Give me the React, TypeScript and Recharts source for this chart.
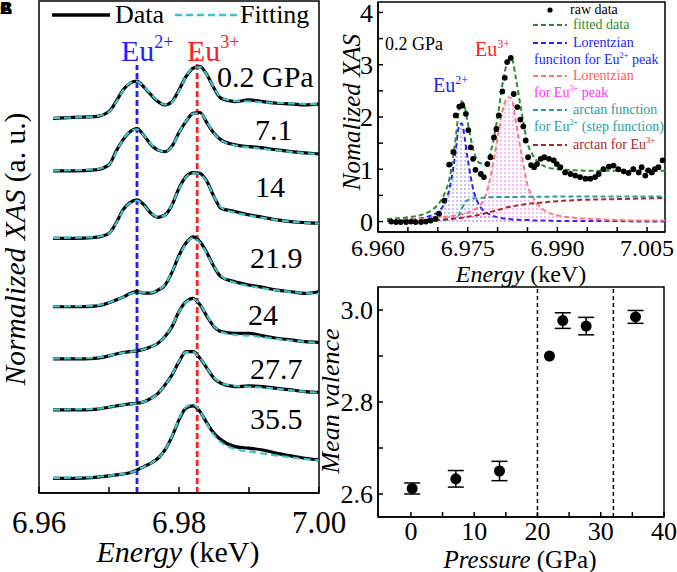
import React from "react";
import {
  ComposedChart,
  Line,
  Area,
  Scatter,
  XAxis,
  YAxis,
  ReferenceLine,
  ReferenceArea,
  ErrorBar,
} from "recharts";

const serif = "'Liberation Serif', 'Times New Roman', serif";

// ---------- panel A : stacked XAS spectra ----------
const energyA = [
  6.962, 6.965, 6.968, 6.97, 6.971, 6.972, 6.973, 6.974, 6.975, 6.976, 6.977,
  6.978, 6.979, 6.98, 6.981, 6.982, 6.983, 6.984, 6.985, 6.986, 6.988, 6.99,
  6.992, 6.994, 6.996, 6.998, 7.0,
];
const pressureLabels = ["0.2 GPa", "7.1", "14", "21.9", "24", "27.7", "35.5"];
const offsets = [23.42, 20.13, 15.92, 11.64, 8.38, 5.19, 0.92];

const data02 = [0, 0.06, 0.1, 0.42, 1.04, 1.77, 2.19, 2.33, 1.94, 1.46, 1.04, 0.83, 1.04, 1.77, 2.6, 3.13, 3.23, 2.71, 1.88, 1.25, 1.04, 1.15, 1.04, 0.94, 0.9, 0.83, 0.88];
const data71 = [0, 0, 0.06, 0.38, 1.21, 1.94, 2.45, 2.65, 2.2, 1.65, 1.3, 1.2, 1.55, 2.4, 3.1, 3.6, 3.65, 3.0, 2.35, 1.94, 1.63, 1.52, 1.44, 1.31, 1.21, 1.13, 1.06];
const data14 = [0, 0, 0.06, 0.31, 0.94, 1.77, 2.23, 2.4, 2.08, 1.56, 1.31, 1.46, 2.08, 3.13, 3.85, 4.1, 4.06, 3.54, 2.6, 1.88, 1.67, 1.46, 1.31, 1.15, 1.04, 0.98, 0.94];
const data219 = [0, 0, 0.04, 0.25, 0.42, 0.6, 0.83, 0.94, 0.85, 0.85, 1.04, 1.35, 2.16, 3.2, 3.98, 4.37, 4.06, 3.36, 2.5, 1.88, 1.56, 1.36, 1.21, 1.04, 0.94, 0.84, 0.94];
const data24 = [0, 0, 0.04, 0.19, 0.31, 0.4, 0.46, 0.5, 0.6, 0.77, 0.98, 1.4, 2.02, 2.96, 3.58, 3.79, 3.38, 2.65, 2.02, 1.71, 1.6, 1.6, 1.44, 1.29, 1.19, 1.08, 1.04];
const data277 = [0, 0, 0.04, 0.17, 0.25, 0.31, 0.38, 0.42, 0.52, 0.73, 1.04, 1.56, 2.19, 3.02, 3.65, 3.65, 3.23, 2.6, 1.98, 1.67, 1.46, 1.5, 1.46, 1.35, 1.25, 1.15, 1.1];
const data355 = [0, 0, 0.06, 0.15, 0.21, 0.27, 0.35, 0.52, 0.73, 0.94, 1.25, 1.77, 2.6, 3.65, 4.38, 4.52, 4.17, 3.44, 2.81, 2.4, 1.98, 1.88, 1.77, 1.56, 1.4, 1.25, 1.15];

const fit02 = [0.02, 0.05, 0.12, 0.4, 1.0, 1.75, 2.2, 2.3, 1.98, 1.5, 1.08, 0.86, 1.0, 1.72, 2.6, 3.15, 3.2, 2.7, 1.9, 1.3, 1.08, 1.05, 1.0, 0.96, 0.93, 0.9, 0.88];
const fit71 = [0.02, 0.05, 0.1, 0.38, 1.15, 1.95, 2.45, 2.6, 2.2, 1.68, 1.32, 1.2, 1.52, 2.38, 3.12, 3.58, 3.6, 3.05, 2.35, 1.92, 1.6, 1.48, 1.38, 1.28, 1.19, 1.11, 1.05];
const fit14 = [0.02, 0.04, 0.08, 0.3, 0.9, 1.75, 2.2, 2.35, 2.05, 1.58, 1.33, 1.45, 2.1, 3.1, 3.82, 4.08, 4.0, 3.5, 2.6, 1.95, 1.6, 1.42, 1.27, 1.14, 1.04, 0.97, 0.92];
const fit219 = [0.02, 0.04, 0.08, 0.26, 0.42, 0.6, 0.8, 0.92, 0.88, 0.88, 1.05, 1.38, 2.2, 3.15, 3.95, 4.32, 4.0, 3.3, 2.5, 1.95, 1.5, 1.3, 1.15, 1.02, 0.93, 0.86, 0.82];
const fit24 = [0.02, 0.04, 0.08, 0.2, 0.3, 0.38, 0.45, 0.5, 0.6, 0.76, 0.99, 1.4, 2.05, 2.95, 3.55, 3.75, 3.4, 2.7, 2.05, 1.7, 1.5, 1.45, 1.36, 1.25, 1.15, 1.07, 1.0];
const fit277 = [0.02, 0.04, 0.08, 0.18, 0.25, 0.31, 0.37, 0.42, 0.52, 0.72, 1.04, 1.55, 2.2, 3.05, 3.62, 3.62, 3.25, 2.62, 2.02, 1.7, 1.5, 1.45, 1.4, 1.32, 1.22, 1.14, 1.08];
const fit355 = [0.02, 0.04, 0.08, 0.16, 0.21, 0.27, 0.35, 0.5, 0.72, 0.94, 1.26, 1.78, 2.62, 3.7, 4.45, 4.6, 4.2, 3.4, 2.7, 2.25, 1.82, 1.68, 1.55, 1.42, 1.3, 1.2, 1.12];

const spectra = [data02, data71, data14, data219, data24, data277, data355];
const fits = [fit02, fit71, fit14, fit219, fit24, fit277, fit355];

const eu2Energy = 6.974;
const eu3Energy = 6.9826;

// ---------- panel B : fit of the 0.2 GPa spectrum ----------
const energyB = [
  6.9615, 6.963, 6.965, 6.967, 6.969, 6.97, 6.971, 6.972, 6.973, 6.9735, 6.974,
  6.9745, 6.975, 6.976, 6.977, 6.978, 6.979, 6.98, 6.981, 6.9815, 6.982, 6.9825,
  6.983, 6.984, 6.985, 6.986, 6.988, 6.99, 6.993, 6.996, 7.0, 7.004, 7.008,
];
const fitted = [0.05, 0.06, 0.08, 0.12, 0.22, 0.32, 0.5, 0.85, 1.6, 2.1, 2.3, 2.2, 1.9, 1.35, 1.12, 1.1, 1.4, 2.0, 2.75, 3.0, 3.12, 3.08, 2.78, 2.1, 1.5, 1.25, 1.05, 1.0, 0.98, 0.97, 0.97, 0.97, 0.97];
const lorentz2 = [0.02, 0.03, 0.04, 0.06, 0.12, 0.18, 0.32, 0.65, 1.35, 1.8, 1.88, 1.6, 1.2, 0.58, 0.3, 0.18, 0.12, 0.08, 0.06, 0.05, 0.05, 0.04, 0.04, 0.03, 0.03, 0.02, 0.02, 0.01, 0.01, 0.01, 0.01, 0, 0];
const lorentz3 = [0.03, 0.03, 0.04, 0.05, 0.07, 0.08, 0.09, 0.1, 0.12, 0.13, 0.14, 0.15, 0.17, 0.22, 0.3, 0.5, 0.95, 1.6, 2.2, 2.35, 2.38, 2.3, 1.95, 1.3, 0.7, 0.45, 0.2, 0.12, 0.07, 0.05, 0.03, 0.02, 0.02];
const arctan2 = [0.01, 0.01, 0.015, 0.02, 0.02, 0.025, 0.03, 0.04, 0.07, 0.12, 0.24, 0.36, 0.41, 0.44, 0.45, 0.46, 0.465, 0.47, 0.47, 0.47, 0.47, 0.47, 0.47, 0.475, 0.475, 0.475, 0.475, 0.48, 0.48, 0.48, 0.48, 0.48, 0.48];
const arctan3 = [0.01, 0.01, 0.02, 0.02, 0.03, 0.035, 0.04, 0.05, 0.06, 0.065, 0.07, 0.08, 0.09, 0.11, 0.13, 0.16, 0.19, 0.22, 0.25, 0.27, 0.28, 0.29, 0.3, 0.32, 0.34, 0.35, 0.37, 0.39, 0.41, 0.42, 0.43, 0.44, 0.45];

const rawE = [
  6.9622, 6.963, 6.9638, 6.9647, 6.9655, 6.9663, 6.9672, 6.968, 6.9688, 6.9696,
  6.9702, 6.9711, 6.9719, 6.9726, 6.973, 6.9736, 6.9741, 6.9747, 6.9751, 6.9755,
  6.9759, 6.9763, 6.9772, 6.9777, 6.9783, 6.9788, 6.9794, 6.9798, 6.9802, 6.9808,
  6.9812, 6.9816, 6.9822, 6.9827, 6.9833, 6.9838, 6.9843, 6.9847, 6.9851, 6.9856,
  6.9861, 6.9866, 6.9872, 6.9878, 6.9886, 6.9894, 6.9899, 6.9905, 6.9913, 6.9922,
  6.993, 6.9938, 6.9947, 6.9955, 6.9963, 6.9969, 6.9977, 6.9986, 6.9994, 7.0002,
  7.0011, 7.0019, 7.0027, 7.0036, 7.0041, 7.0047, 7.0052, 7.0058, 7.0063, 7.0069,
  7.0076,
];
const rawY = [
  0, -0.01, -0.01, -0.01, 0, -0.01, -0.01, 0, 0.02, 0.05,
  0.15, 0.4, 1.09, 1.33, 2.03, 2.2, 2.22, 2.06, 1.75, 1.42,
  1.2, 0.99, 0.91, 0.85, 1.1, 1.23, 1.61, 1.77, 2.03, 2.49,
  2.75, 3.05, 3.13, 2.44, 2.19, 1.95, 1.82, 1.55, 1.23, 1.08,
  1.04, 1.1, 1.2, 1.23, 1.2, 1.17, 1.1, 1.04, 0.94, 0.91,
  0.88, 0.85, 0.82, 0.82, 0.85, 0.91, 1.0, 1.05, 1.07, 1.0,
  0.96, 0.93, 1.0, 0.94, 1.04, 0.88, 0.98, 0.94, 1.0, 1.04,
  1.17,
];

// ---------- panel C : mean valence vs pressure ----------
const pressureC = [0.2, 7.1, 14, 21.9, 24, 27.7, 35.5];
const valenceC = [2.612, 2.633, 2.65, 2.9, 2.977, 2.965, 2.985];
const errC = [0.012, 0.018, 0.021, 0, 0.017, 0.019, 0.014];
const transitions = [20, 32];

const rowsA = energyA.map((e, i) => {
  const r: any = { e };
  spectra.forEach((s, k) => (r[`d${k}`] = s[i] + offsets[k]));
  fits.forEach((s, k) => (r[`f${k}`] = s[i] + offsets[k]));
  return r;
});
const rowsB = energyB.map((e, i) => ({
  e,
  fit: fitted[i],
  l2: lorentz2[i],
  l3: lorentz3[i],
  a2: arctan2[i],
  a3: arctan3[i],
}));
const rawRows = rawE.map((e, i) => ({ e, y: rawY[i] }));
const rowsC = pressureC.map((p, i) => ({ p, v: valenceC[i], err: errC[i] }));

const tickFont = (size: number) => ({ fontSize: size, fill: "#000", fontFamily: serif });

function Txt({ x, y, size, color = "#000", center = false, children }: any) {
  return (
    <div
      style={{
        position: "absolute",
        left: x,
        top: y - size / 2,
        fontSize: size,
        color,
        lineHeight: 1,
        whiteSpace: "nowrap",
        fontFamily: serif,
        transform: center ? "translateX(-50%)" : undefined,
      }}
    >
      {children}
    </div>
  );
}

function VTxt({ x, y, size, children }: any) {
  return (
    <div
      style={{
        position: "absolute",
        left: x,
        top: y,
        fontSize: size,
        lineHeight: 1,
        whiteSpace: "nowrap",
        fontFamily: serif,
        transform: "translate(-50%, -50%) rotate(-90deg)",
      }}
    >
      {children}
    </div>
  );
}

const Sup = ({ children }: any) => (
  <span style={{ fontSize: "0.6em", position: "relative", top: "-0.7em" }}>{children}</span>
);

const pressPos = [
  [217, 77],
  [255, 130],
  [255, 187],
  [250, 258],
  [248, 315],
  [250, 369],
  [250, 419],
];

export default function App() {
  return (
    <div
      style={{
        position: "absolute",
        left: 0,
        top: 0,
        width: 677,
        height: 572,
        background: "#fff",
        overflow: "hidden",
        fontFamily: serif,
      }}
    >
      {/* A */}
      <div style={{ position: "absolute", left: 0, top: 0 }}>
        <ComposedChart
          width={360}
          height={572}
          data={rowsA}
          margin={{ top: 1, right: 41, bottom: 29, left: 39 }}
        >
          <XAxis
            dataKey="e"
            type="number"
            domain={[6.96, 7.0]}
            allowDataOverflow
            ticks={[6.96, 6.97, 6.98, 6.99, 7.0]}
            interval={0}
            tickFormatter={(v: number) => (["6.96", "6.98", "7.00"].includes(v.toFixed(2)) ? v.toFixed(2) : "")}
            tick={tickFont(31)}
            tickSize={-6}
            tickMargin={24}
            height={50}
            stroke="#000"
            strokeWidth={1.5}
          />
          <YAxis type="number" domain={[0, 30.75]} allowDataOverflow hide />
          <ReferenceArea x1={6.96} x2={7.0} y1={0} y2={30.75} fill="none" stroke="#000" strokeWidth={1.5} />
          <ReferenceLine
            segment={[{ x: eu2Energy, y: 0 }, { x: eu2Energy, y: 26.75 }]}
            stroke="#1f1fff"
            strokeWidth={2.8}
            strokeDasharray="6 3"
          />
          <ReferenceLine
            segment={[{ x: eu3Energy, y: 0 }, { x: eu3Energy, y: 27.2 }]}
            stroke="#ff2020"
            strokeWidth={2.8}
            strokeDasharray="6 3"
          />
          {spectra.map((_, k) => (
            <Line
              key={`d${k}`}
              dataKey={`d${k}`}
              type="monotone"
              stroke="#000"
              strokeWidth={3.2}
              dot={false}
              isAnimationActive={false}
            />
          ))}
          {fits.map((_, k) => (
            <Line
              key={`f${k}`}
              dataKey={`f${k}`}
              type="monotone"
              stroke="#3cc4cc"
              strokeWidth={2.2}
              strokeDasharray="7 4"
              dot={false}
              isAnimationActive={false}
            />
          ))}
        </ComposedChart>
      </div>

      {/* B */}
      <div style={{ position: "absolute", left: 340, top: 0 }}>
        <ComposedChart
          width={337}
          height={280}
          data={rowsB}
          margin={{ top: 2, right: 12, bottom: 18, left: 0 }}
        >
          <defs>
            <pattern id="dotBlue" width="4" height="4" patternUnits="userSpaceOnUse">
              <circle cx="1" cy="1" r="0.7" fill="#5a5aff" />
            </pattern>
            <pattern id="dotPink" width="4" height="4" patternUnits="userSpaceOnUse">
              <circle cx="1" cy="1" r="0.7" fill="#ff40ff" />
            </pattern>
          </defs>
          <XAxis
            dataKey="e"
            type="number"
            domain={[6.96, 7.008]}
            allowDataOverflow
            ticks={[6.96, 6.965, 6.97, 6.975, 6.98, 6.985, 6.99, 6.995, 7.0, 7.005]}
            interval={0}
            tickFormatter={(v: number) =>
              ["6.960", "6.975", "6.990", "7.005"].includes(v.toFixed(3)) ? v.toFixed(3) : ""
            }
            tick={tickFont(24)}
            tickSize={-5}
            tickMargin={12}
            height={30}
            stroke="#000"
            strokeWidth={1.5}
          />
          <YAxis
            type="number"
            domain={[-0.2, 4.2]}
            allowDataOverflow
            ticks={[0, 0.5, 1, 1.5, 2, 2.5, 3, 3.5, 4]}
            interval={0}
            tickFormatter={(v: number) => (Number.isInteger(v) ? String(v) : "")}
            tick={tickFont(26)}
            tickSize={-5}
            tickMargin={10}
            width={38}
            stroke="#000"
            strokeWidth={1.5}
          />
          <ReferenceArea x1={6.96} x2={7.008} y1={-0.2} y2={4.2} fill="none" stroke="#000" strokeWidth={1.5} />
          <Area
            dataKey="l2"
            type="monotone"
            baseValue={0}
            fill="url(#dotBlue)"
            fillOpacity={1}
            stroke="#2424ff"
            strokeWidth={2}
            strokeDasharray="5 3"
            dot={false}
            activeDot={false}
            isAnimationActive={false}
          />
          <Area
            dataKey="l3"
            type="monotone"
            baseValue={0}
            fill="url(#dotPink)"
            fillOpacity={1}
            stroke="#ff7878"
            strokeWidth={2}
            strokeDasharray="5 3"
            dot={false}
            activeDot={false}
            isAnimationActive={false}
          />
          <Line dataKey="a2" type="monotone" stroke="#2a9d9d" strokeWidth={2} strokeDasharray="5 3" dot={false} isAnimationActive={false} />
          <Line dataKey="a3" type="monotone" stroke="#a52a2a" strokeWidth={2} strokeDasharray="5 3" dot={false} isAnimationActive={false} />
          <Line dataKey="fit" type="monotone" stroke="#2e8b2e" strokeWidth={2} strokeDasharray="5 3" dot={false} isAnimationActive={false} />
          <Scatter
            data={rawRows}
            dataKey="y"
            isAnimationActive={false}
            shape={(p: any) => <circle cx={p.cx} cy={p.cy} r={2.9} fill="#000" />}
          />
        </ComposedChart>
      </div>

      {/* C */}
      <div style={{ position: "absolute", left: 340, top: 280 }}>
        <ComposedChart
          width={337}
          height={292}
          data={rowsC}
          margin={{ top: 7, right: 13, bottom: 25, left: 0 }}
        >
          <XAxis
            dataKey="p"
            type="number"
            domain={[-5.2, 40]}
            allowDataOverflow
            ticks={[0, 5, 10, 15, 20, 25, 30, 35, 40]}
            interval={0}
            tickFormatter={(v: number) => (v % 10 === 0 ? String(v) : "")}
            tick={tickFont(26)}
            tickSize={-5}
            tickMargin={10}
            height={30}
            stroke="#000"
            strokeWidth={1.5}
          />
          <YAxis
            dataKey="v"
            type="number"
            domain={[2.55, 3.05]}
            allowDataOverflow
            ticks={[2.6, 2.7, 2.8, 2.9, 3.0]}
            interval={0}
            tickFormatter={(v: number) => (["2.6", "2.8", "3.0"].includes(v.toFixed(1)) ? v.toFixed(1) : "")}
            tick={tickFont(26)}
            tickSize={-5}
            tickMargin={10}
            width={38}
            stroke="#000"
            strokeWidth={1.5}
          />
          <ReferenceArea x1={-5.2} x2={40} y1={2.55} y2={3.05} fill="none" stroke="#000" strokeWidth={1.5} />
          {transitions.map((t) => (
            <ReferenceLine key={t} x={t} stroke="#000" strokeWidth={1.5} strokeDasharray="4 3" />
          ))}
          <Scatter
            dataKey="v"
            isAnimationActive={false}
            shape={(p: any) => <circle cx={p.cx} cy={p.cy} r={5.5} fill="#000" />}
          >
            <ErrorBar dataKey="err" direction="y" width={8} stroke="#000" strokeWidth={1.5} />
          </Scatter>
        </ComposedChart>
      </div>

      {/* legend samples */}
      <svg width={677} height={572} style={{ position: "absolute", left: 0, top: 0, pointerEvents: "none" }}>
        <line x1={52} y1={15} x2={110} y2={15} stroke="#000" strokeWidth={3.5} />
        <line x1={175} y1={15} x2={237} y2={15} stroke="#3cc4cc" strokeWidth={2.5} strokeDasharray="7 4" />
        <circle cx={550} cy={10} r={2.6} fill="#000" />
        <line x1={533} y1={25} x2={567} y2={25} stroke="#2e8b2e" strokeWidth={2} strokeDasharray="5 3" />
        <line x1={533} y1={43} x2={567} y2={43} stroke="#2424ff" strokeWidth={2} strokeDasharray="5 3" />
        <line x1={533} y1={76} x2={567} y2={76} stroke="#ff7878" strokeWidth={2} strokeDasharray="5 3" />
        <line x1={533} y1={110} x2={567} y2={110} stroke="#2a9d9d" strokeWidth={2} strokeDasharray="5 3" />
        <line x1={533} y1={145} x2={567} y2={145} stroke="#a52a2a" strokeWidth={2} strokeDasharray="5 3" />
      </svg>

      {/* panel letters */}
      {["A", "B", "C"].map((l) => (
        <div
          key={l}
          style={{
            position: "absolute",
            left: 0,
            top: 0,
            fontSize: 17,
            fontWeight: 700,
            fontFamily: "'Liberation Sans', Arial, sans-serif",
            lineHeight: 1,
          }}
        >
          {l}
        </div>
      ))}

      {/* A texts */}
      <Txt x={115} y={15} size={26}>Data</Txt>
      <Txt x={240} y={15} size={26}>Fitting</Txt>
      <Txt x={121} y={51} size={30} color="#1f1fff">
        Eu<Sup>2+</Sup>
      </Txt>
      <Txt x={187} y={51} size={30} color="#ff2020">
        Eu<Sup>3+</Sup>
      </Txt>
      {pressureLabels.map((p, k) => (
        <Txt key={p} x={pressPos[k][0]} y={pressPos[k][1]} size={30}>
          {p}
        </Txt>
      ))}
      <VTxt x={16} y={249} size={29.5}>
        <i>Normalized XAS</i> (a. u.)
      </VTxt>
      <Txt x={178} y={552} size={30} center>
        <i>Energy</i> (keV)
      </Txt>

      {/* B texts */}
      <Txt x={385} y={44} size={18}>0.2 GPa</Txt>
      <Txt x={475} y={49} size={20} color="#ff2020">
        Eu<Sup>3+</Sup>
      </Txt>
      <Txt x={433} y={85} size={20} color="#2424ff">
        Eu<Sup>2+</Sup>
      </Txt>
      <Txt x={570} y={10} size={14}>raw data</Txt>
      <Txt x={573} y={25} size={14} color="#2e8b2e">fitted data</Txt>
      <Txt x={573} y={43} size={14} color="#2424ff">Lorentzian</Txt>
      <Txt x={534} y={60} size={14} color="#2424ff">
        funciton for Eu<Sup>2+</Sup> peak
      </Txt>
      <Txt x={573} y={76} size={14} color="#ff5a5a">Lorentzian</Txt>
      <Txt x={534} y={93} size={14} color="#ff30ff">
        for Eu<Sup>3+</Sup> peak
      </Txt>
      <Txt x={573} y={110} size={14} color="#2a9d9d">arctan function</Txt>
      <Txt x={534} y={127} size={14} color="#2a9d9d">
        for Eu<Sup>2+</Sup> (step function)
      </Txt>
      <Txt x={573} y={145} size={14} color="#a52a2a">
        arctan for Eu<Sup>3+</Sup>
      </Txt>
      <VTxt x={351} y={112} size={25}>
        <i>Nomalized XAS</i>
      </VTxt>
      <Txt x={521} y={274} size={24} center>
        <i>Energy</i> (keV)
      </Txt>

      {/* C texts */}
      <VTxt x={331} y={401} size={26}>
        <i>Mean valence</i>
      </VTxt>
      <Txt x={520} y={559} size={25} center>
        <i>Pressure</i> (GPa)
      </Txt>
    </div>
  );
}
